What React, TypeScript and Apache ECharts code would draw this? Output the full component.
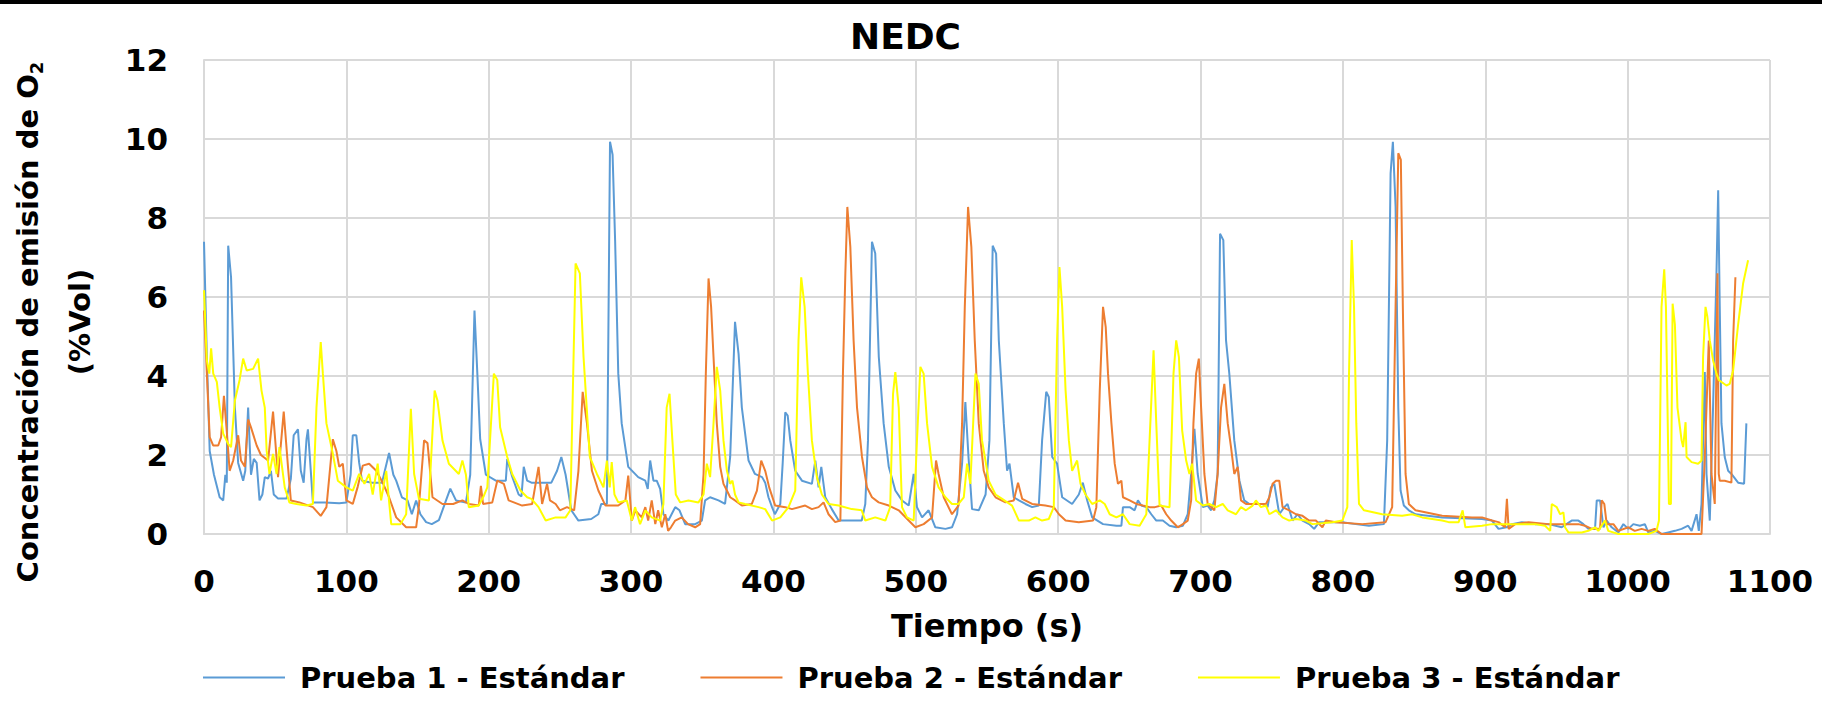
import React, { useEffect, useRef } from "react";
import * as echarts from "echarts";

const chartTitle = "NEDC";
const xAxisTitle = "Tiempo (s)";
const yAxisTitleLine1 = "Concentración de emisión de O";
const yAxisTitleSub = "2";
const yAxisTitleLine2 = "(%Vol)";
const seriesNames = ["Prueba 1 - Estándar", "Prueba 2 - Estándar", "Prueba 3 - Estándar"];
const seriesColors = ["#5B9BD5", "#ED7D31", "#FFFF00"];
const xTicks = { min: 0, max: 1100, step: 100 };
const yTicks = { min: 0, max: 12, step: 2 };

// [tiempo (s), O2 (%Vol)]
const prueba1: number[][] = [
  [0,7.4],[2,4.5],[4,2.1],[7,1.5],[11,0.93],[13.5,0.85],[15,1.5],[16,1.3],[17,7.3],[19,6.5],[21.7,3.2],[24,1.8],
  [27.5,1.35],[29,1.6],[31,3.2],[33,1.5],[35,1.9],[37,1.8],[39,0.85],[41,1.0],[42.7,1.44],[45,1.4],[47,1.6],[49,1.0],
  [52,0.9],[58,0.9],[61,1.4],[63,2.5],[66,2.65],[68,1.6],[70,1.3],[72,2.4],[73,2.65],[75,1.6],[76.5,0.8],[85,0.8],
  [95,0.78],[100,0.8],[103,1.5],[104.5,2.5],[107,2.5],[109,1.8],[111,1.35],[118,1.3],[125,1.3],[130,2.05],[133,1.5],
  [135,1.35],[139,0.93],[143,0.85],[146,0.5],[149,0.85],[152,0.5],[156,0.3],[160,0.25],[165,0.35],[170,0.85],[173,1.15],
  [177,0.85],[184,0.8],[187,1.5],[190,5.66],[192,4.06],[194,2.4],[198,1.5],[205,1.35],[212,1.35],[213,1.9],[216.5,1.45],
  [221,1.0],[223,0.95],[224.6,1.7],[227,1.35],[230,1.3],[244,1.3],[248,1.6],[251,1.95],[254,1.5],[258,0.6],[263,0.34],
  [272,0.38],[277,0.5],[279,0.76],[283,0.76],[285.2,9.93],[287,9.6],[288.8,7.4],[291,4.06],[293.4,2.8],[298,1.7],
  [305,1.44],[310,1.35],[311.7,1.14],[313.4,1.86],[315.7,1.35],[318,1.35],[320.4,1.14],[322.7,0.5],[326.2,0.34],
  [331,0.68],[334,0.6],[338,0.25],[345,0.25],[349.7,0.34],[352,0.85],[355.5,0.93],[361.4,0.85],[366,0.76],[369.6,1.95],
  [373,5.37],[375.5,4.56],[377.8,3.2],[382.5,1.86],[387,1.52],[392,1.44],[394.2,1.3],[396.5,0.93],[399,0.68],[401,0.5],
  [404.8,0.76],[406.5,1.8],[408.3,3.08],[410,3.0],[411.8,2.37],[415.3,1.6],[420,1.35],[427,1.27],[429.4,1.86],
  [431.7,1.18],[433.6,1.7],[436.4,0.93],[441,0.63],[445.8,0.34],[462,0.34],[464.5,0.76],[466.4,2.37],[469.2,7.4],
  [471.5,7.1],[474,4.48],[477.4,2.8],[481,1.7],[485.6,1.1],[490.3,0.85],[495,0.72],[498.5,1.52],[500.8,0.68],
  [504.4,0.42],[509,0.6],[513.7,0.17],[520.8,0.13],[525.4,0.17],[529,0.5],[532.5,1.78],[534.8,3.34],[537,1.95],
  [539.5,0.63],[544.2,0.6],[549,1.0],[551.7,2.37],[554,7.3],[556.4,7.1],[558.3,4.9],[561.8,2.8],[564.1,1.6],
  [565.8,1.78],[568.8,0.93],[572.4,0.85],[577,0.76],[581.7,0.68],[586.4,0.72],[588.7,2.37],[591.6,3.6],[593.4,3.47],
  [595.8,1.95],[599.2,1.78],[602.8,0.93],[609.8,0.76],[614.5,1.0],[617.3,1.3],[620.4,0.85],[623.9,0.42],[631.5,0.25],
  [640.9,0.21],[644.4,0.21],[645.5,0.68],[650.2,0.68],[653.7,0.6],[656,0.85],[658.4,0.72],[661.9,0.68],[665.4,0.5],
  [668.9,0.34],[673.5,0.34],[678.2,0.21],[682.9,0.17],[687.6,0.21],[691,0.5],[693.4,1.52],[695.7,2.66],[698,1.52],
  [701.6,0.68],[705,0.72],[707.4,0.6],[709.7,0.85],[712,1.52],[713.7,7.6],[716,7.44],[717.9,4.9],[720.2,4.06],
  [723.7,2.37],[727.3,1.35],[730.7,0.85],[734.3,0.76],[743.6,0.76],[747.1,0.68],[749.4,1.18],[751.8,1.27],[755.3,0.5],
  [758.8,0.68],[761.1,0.76],[764.6,0.34],[768.1,0.5],[771.6,0.34],[776.3,0.25],[779.8,0.13],[783.3,0.3],[799.6,0.3],
  [809,0.25],[818.3,0.21],[828.8,0.25],[831.1,2.37],[833.5,9.13],[835.1,9.93],[837,8.28],[838.9,3.2],[840.5,1.1],
  [842.8,0.72],[846.3,0.6],[851,0.5],[869.7,0.42],[897.7,0.38],[904.7,0.34],[909.3,0.13],[915,0.17],[918.7,0.25],
  [925.7,0.3],[935,0.25],[944.4,0.25],[953.7,0.17],[960.7,0.34],[965.4,0.34],[968.9,0.25],[972.4,0.13],[977.1,0.13],
  [978.3,0.85],[980.6,0.85],[983,0.17],[985.3,0.34],[988.8,0.17],[993.5,0.04],[997,0.25],[1000.5,0.13],[1004,0.25],
  [1008.6,0.21],[1012.1,0.25],[1014.5,0.04],[1019.2,0.08],[1023.8,0],[1028.5,0.04],[1033.2,0.08],[1037.9,0.13],
  [1042.5,0.21],[1044.9,0.08],[1048.4,0.5],[1050,0.08],[1051.9,0.76],[1054.2,4.1],[1055.4,1.52],[1057.7,0.34],
  [1060,3.2],[1062.4,6.6],[1063.6,8.7],[1064.7,5.75],[1065.9,2.8],[1068.2,1.95],[1070.6,1.6],[1072.9,1.52],
  [1077.6,1.3],[1081.8,1.27],[1083.4,2.8]
];

const prueba2: number[][] = [
  [0,5.66],[2,4.06],[4,2.45],[6.5,2.24],[10,2.24],[12,2.45],[14,3.5],[16,2.6],[18,1.6],[20.5,1.86],[24,2.5],[26,1.86],
  [28.7,1.7],[31,2.9],[33,2.7],[37,2.24],[40,2.0],[45,1.86],[48.5,3.1],[52,1.44],[56,3.1],[59,1.7],[61,0.85],[67,0.8],
  [76.5,0.68],[82,0.46],[86,0.68],[90.5,2.4],[93,2.1],[95,1.7],[97.5,1.78],[100,0.85],[104.5,0.76],[108,1.2],
  [111.5,1.73],[116,1.78],[121,1.6],[125.5,1.3],[130,0.93],[135,0.42],[142,0.17],[149,0.17],[151,0.72],[154.6,2.37],
  [157,2.3],[160.5,0.93],[167.5,0.76],[175,0.76],[181.5,0.85],[186,0.76],[193,0.72],[194.5,1.22],[196,0.76],
  [202.5,0.8],[206,1.35],[210.6,1.27],[214,0.85],[223.5,0.72],[230.5,0.76],[235,1.7],[237.5,0.76],[241,1.27],
  [243,0.85],[247,0.76],[250,0.6],[255,0.68],[260,0.6],[263,1.6],[266,3.6],[269,2.8],[272.5,1.6],[277,1.1],[282,0.72],
  [291,0.72],[296,0.85],[298,1.48],[300.5,0.34],[303,0.6],[307.5,0.42],[310,0.68],[312,0.34],[314.5,0.85],[317,0.25],
  [319,0.6],[321.6,0.17],[324,0.5],[326,0.08],[328,0.17],[331,0.34],[335.6,0.42],[340,0.25],[345,0.17],[348.5,0.25],
  [350.9,1.52],[352.5,4.06],[354.4,6.47],[356.2,5.75],[357.9,4.48],[360.2,2.8],[362.6,1.7],[364.9,1.27],[367.3,1.1],
  [369.6,0.93],[373,0.85],[377.8,0.72],[384.8,0.76],[388.4,1.1],[391.4,1.86],[394.2,1.6],[397,1.18],[401.2,0.72],
  [408.3,0.68],[413,0.63],[422.3,0.72],[427,0.63],[431.7,0.68],[435.2,0.8],[438.7,0.5],[443.4,0.3],[447,0.34],
  [448.8,4.06],[450.5,6.6],[451.9,8.28],[454,7.27],[456.3,4.9],[458.7,3.2],[462.2,1.95],[465.7,1.18],[469.2,0.93],
  [473.9,0.8],[481,0.72],[488,0.6],[495,0.34],[499.7,0.17],[505.5,0.25],[511.4,0.42],[514.2,1.86],[516,1.52],
  [519.6,0.93],[525.4,0.5],[530,0.72],[532.5,2.8],[534.4,5.75],[536.7,8.28],[539,7.27],[541.4,4.9],[544.2,2.8],
  [547.7,1.6],[551.2,1.18],[556,0.93],[563,0.8],[568.8,0.85],[571.8,1.3],[574.7,0.89],[581.7,0.76],[591,0.72],
  [596.9,0.68],[600.5,0.5],[605.2,0.34],[614.5,0.3],[624.5,0.34],[626.8,0.68],[629.2,3.63],[631.5,5.75],[633.4,5.24],
  [635,4.06],[637.4,2.8],[639.7,1.78],[642,1.27],[644.4,1.35],[645.5,0.93],[650.2,0.85],[654.9,0.76],[659.5,0.72],
  [664.2,0.68],[668,0.68],[672.4,0.72],[675.9,0.5],[679.4,0.34],[684,0.17],[687.6,0.25],[691,0.34],[693.4,0.85],
  [695,2.8],[696.9,4.06],[698.8,4.44],[700.4,3.2],[702.7,1.52],[705,0.76],[707.4,0.68],[709.7,0.6],[712,1.52],
  [714.4,3.2],[716.7,3.8],[719.1,2.8],[721.4,2.2],[723.7,1.52],[726.1,1.7],[728.4,0.85],[731.9,0.76],[746,0.76],
  [748.3,0.93],[750.6,1.27],[753,1.35],[755.3,1.35],[757.6,0.68],[762.3,0.6],[767,0.5],[771.6,0.46],[776.3,0.34],
  [781,0.34],[785.6,0.17],[788,0.34],[795,0.3],[813.6,0.25],[830,0.3],[834.6,0.68],[837,5.75],[838.9,9.64],
  [840.7,9.47],[842.1,5.75],[844,1.52],[846.3,0.76],[851,0.6],[869.7,0.46],[890.7,0.42],[897.7,0.42],[904.7,0.34],
  [909.3,0.3],[913.9,0.17],[915.2,0.89],[916.4,0.13],[921,0.25],[930.4,0.3],[944.4,0.25],[956,0.25],[965.4,0.25],
  [970,0.21],[974.8,0.13],[980.6,0.13],[981.8,0.85],[983.6,0.76],[985.3,0.25],[990,0.25],[993.5,0.08],[1000.5,0.17],
  [1005,0.08],[1009.8,0.13],[1014.5,0.08],[1019,0.13],[1023.8,0],[1051.9,0],[1054.2,1.95],[1057,4.9],[1058.9,1.52],
  [1061.2,0.76],[1063.1,6.6],[1064,1.52],[1064.7,1.35],[1068.2,1.35],[1072.9,1.3],[1074.1,4.9],[1075.7,6.5]
];

const prueba3: number[][] = [
  [0,6.17],[2,4.4],[3.7,4.06],[5,4.7],[6.5,4.06],[9,3.85],[11,3.2],[13.5,2.54],[17,2.28],[19,2.2],[21.7,3.38],
  [25,3.9],[27.5,4.44],[30,4.14],[34.5,4.18],[38,4.44],[40.4,3.63],[42.7,3.2],[44,2.11],[46,1.52],[48.5,2.03],[51,1.52],
  [53,2.2],[56.7,1.18],[60,0.8],[65,0.76],[72,0.72],[76.5,0.76],[79,3.2],[82,4.86],[83.5,4.06],[86,2.8],[90.5,2.03],
  [94,1.35],[100,1.18],[104.5,1.1],[109,1.52],[112.7,1.27],[116,1.52],[118.5,1.0],[122,1.78],[124.4,0.85],[128,1.6],
  [131.5,0.25],[138,0.25],[142,0.5],[145.3,3.17],[147.6,1.52],[151,0.89],[158,0.85],[162,3.63],[164,3.38],[167.5,2.37],
  [172,1.78],[179,1.52],[181.5,1.86],[184,1.5],[186,0.68],[193,0.72],[196.6,0.97],[199,1.18],[203.6,4.06],[206,3.9],
  [208,2.7],[213,1.95],[216.5,1.52],[222.3,1.1],[227,0.93],[230,0.89],[235,0.68],[240,0.34],[247,0.42],[254,0.42],
  [257.3,0.6],[261,6.85],[264,6.6],[266.6,4.48],[271,1.95],[276,1.52],[280.6,1.18],[283,1.86],[285,1.18],[286.4,1.82],
  [288.3,1.0],[291,0.8],[297,0.85],[300.5,0.34],[302.8,0.68],[306.3,0.25],[310,0.6],[314.5,0.42],[320.4,0.34],
  [322.7,0.76],[325,3.2],[327,3.55],[329,2.37],[331.4,1.0],[334.5,0.8],[340.3,0.85],[347.3,0.8],[350.9,1.0],[353.2,1.78],
  [355.5,1.44],[357.9,2.8],[360.2,4.23],[362.6,3.63],[364.9,2.37],[367.3,1.6],[369.6,1.27],[371.2,1.35],[373,1.0],
  [375.5,0.8],[380,0.76],[389.5,0.68],[394.2,0.63],[399,0.34],[404.8,0.42],[410.6,0.68],[415.3,1.1],[417.6,4.9],
  [419.5,6.5],[421.9,5.75],[424.2,4.06],[427,2.37],[430.5,1.44],[434,1.0],[438.7,0.76],[445.8,0.72],[455,0.63],
  [462,0.6],[464.5,0.34],[471.5,0.42],[478.6,0.34],[482,0.68],[484,3.55],[485.6,4.1],[488,3.2],[490.3,0.68],
  [493.8,0.42],[498.5,0.34],[500.8,2.37],[503.2,4.23],[505.5,4.06],[507.9,2.8],[511.4,1.7],[516,1.18],[520.8,0.93],
  [525.4,0.76],[530,0.76],[533.7,0.93],[536,1.78],[538.3,1.27],[541.9,4.06],[544.2,3.8],[546.5,2.37],[548.9,1.86],
  [551.2,1.35],[556,1.0],[560.6,0.89],[567.6,0.72],[572.4,0.34],[579.4,0.34],[584,0.42],[588.7,0.34],[593.4,0.38],
  [596.9,0.68],[599.2,4.9],[600.9,6.76],[602.8,5.75],[605.2,3.63],[607.5,2.37],[609.8,1.6],[613.3,1.86],[615.7,1.27],
  [619.2,1.0],[623.9,0.76],[629.2,0.85],[632.7,0.76],[636.2,0.5],[640.9,0.42],[645.5,0.5],[650.2,0.25],[657.2,0.21],
  [661.9,0.5],[664.2,2.37],[667,4.65],[668.9,2.8],[671.2,0.72],[678.2,0.68],[681,4.06],[682.9,4.9],[684.8,4.48],
  [687.1,2.62],[689.9,1.86],[692.2,1.52],[694.1,1.78],[696.9,0.85],[701.6,0.72],[706.2,0.76],[710.9,0.68],[715.6,0.76],
  [719.1,0.6],[724.9,0.5],[728.4,0.68],[731.9,0.6],[736.6,0.72],[738.9,0.85],[742.4,0.68],[746,0.72],[748.3,0.5],
  [753,0.6],[757.6,0.42],[762.3,0.34],[767,0.38],[773.9,0.34],[778.6,0.25],[792.6,0.3],[799.6,0.34],[803.1,0.68],
  [804.3,4.06],[806.2,7.44],[807.8,5.75],[809.4,2.8],[811.3,0.76],[814.8,0.6],[827.6,0.5],[841.6,0.46],[848.6,0.5],
  [855.7,0.42],[869.7,0.34],[874.3,0.3],[881.3,0.3],[884.1,0.6],[886,0.17],[897.7,0.21],[904.7,0.25],[921,0.25],
  [935,0.25],[942,0.21],[945.6,0.08],[946.7,0.76],[950.2,0.68],[952.6,0.5],[954.9,0.55],[956,0.17],[958.4,0.04],
  [967.8,0.04],[972.4,0.08],[977.1,0.17],[979.4,0.08],[984.1,0.34],[986.4,0.08],[993.5,0],[1014.5,0],[1020.3,0.08],
  [1022,0.34],[1023.8,5.75],[1025.7,6.7],[1026.9,5.75],[1028,3.2],[1029,0.76],[1030.4,0.76],[1031.6,5.83],[1033.2,5.3],
  [1035,3.2],[1037.9,2.37],[1039,2.2],[1040.7,2.83],[1041.4,1.95],[1044.9,1.82],[1049.5,1.78],[1051.9,1.86],
  [1053,4.48],[1054.7,5.75],[1056,5.5],[1057.7,4.9],[1060,4.4],[1062.4,4.06],[1064,3.9],[1069.4,3.76],[1071.7,3.8],
  [1074.1,4.14],[1077.6,5.3],[1081.1,6.34],[1084.6,6.93]
];

const seriesData = [prueba1, prueba2, prueba3];

const FONT = "DejaVu Sans";
const GRID_COLOR = "#D9D9D9";

export default function App() {
  const ref = useRef<HTMLDivElement>(null);

  useEffect(() => {
    if (!ref.current) return;
    const chart = echarts.init(ref.current, undefined, { renderer: "svg" });
    const option: any = {
      animation: false,
      backgroundColor: "#ffffff",
      title: {
        text: chartTitle,
        left: 850,
        top: 18,
        padding: 0,
        textStyle: { fontFamily: FONT, fontWeight: "bold", fontSize: 36, color: "#000", lineHeight: 36 },
      },
      legend: {
        left: 203,
        top: 663,
        itemWidth: 82,
        itemHeight: 2,
        itemGap: 76,
        padding: 0,
        icon: "rect",
        data: seriesNames,
        textStyle: {
          fontFamily: FONT,
          fontWeight: "bold",
          fontSize: 29,
          color: "#000",
          padding: [0, 0, 0, 10],
        },
      },
      grid: { left: 204, top: 60, width: 1566, height: 474, containLabel: false },
      xAxis: {
        type: "value",
        min: xTicks.min,
        max: xTicks.max,
        interval: xTicks.step,
        name: xAxisTitle,
        nameLocation: "middle",
        nameGap: 76,
        nameTextStyle: { fontFamily: FONT, fontWeight: "bold", fontSize: 32, color: "#000", lineHeight: 32 },
        axisLine: { show: true, lineStyle: { color: GRID_COLOR, width: 2 } },
        axisTick: { show: false },
        splitLine: { show: true, lineStyle: { color: GRID_COLOR, width: 2 } },
        axisLabel: {
          fontFamily: FONT, fontWeight: "bold", fontSize: 31, color: "#000", margin: 31,
          formatter: (v: number) => String(v),
        },
      },
      yAxis: {
        type: "value",
        min: yTicks.min,
        max: yTicks.max,
        interval: yTicks.step,
        axisLine: { show: true, lineStyle: { color: GRID_COLOR, width: 2 } },
        axisTick: { show: false },
        splitLine: { show: true, lineStyle: { color: GRID_COLOR, width: 2 } },
        axisLabel: {
          fontFamily: FONT, fontWeight: "bold", fontSize: 31, color: "#000", margin: 36,
          formatter: (v: number) => String(v),
        },
      },
      graphic: [
        { type: "rect", left: 0, top: 0, shape: { x: 0, y: 0, width: 1822, height: 4 }, style: { fill: "#000" } },
        {
          type: "text",
          x: 28,
          y: 322,
          rotation: Math.PI / 2,
          style: {
            text: yAxisTitleLine1 + "{s|" + yAxisTitleSub + "}",
            align: "center",
            verticalAlign: "middle",
            fontFamily: FONT,
            fontWeight: "bold",
            fontSize: 29,
            lineHeight: 34,
            fill: "#000",
            rich: {
              s: { fontFamily: FONT, fontWeight: "bold", fontSize: 18, lineHeight: 18, verticalAlign: "bottom", fill: "#000" },
            },
          },
        },
        {
          type: "text",
          x: 80,
          y: 322,
          rotation: Math.PI / 2,
          style: {
            text: yAxisTitleLine2,
            align: "center",
            verticalAlign: "middle",
            fontFamily: FONT,
            fontWeight: "bold",
            fontSize: 29,
            fill: "#000",
          },
        },
      ],
      series: seriesNames.map((name, i) => ({
        name,
        type: "line",
        data: seriesData[i],
        symbol: "none",
        showSymbol: false,
        smooth: false,
        color: seriesColors[i],
        lineStyle: { color: seriesColors[i], width: 2 },
        z: 2 + i,
      })),
    };
    chart.setOption(option);
    return () => chart.dispose();
  }, []);

  return (
    <div
      ref={ref}
      style={{ position: "absolute", left: 0, top: 0, width: 1822, height: 701, background: "#fff" }}
    />
  );
}
